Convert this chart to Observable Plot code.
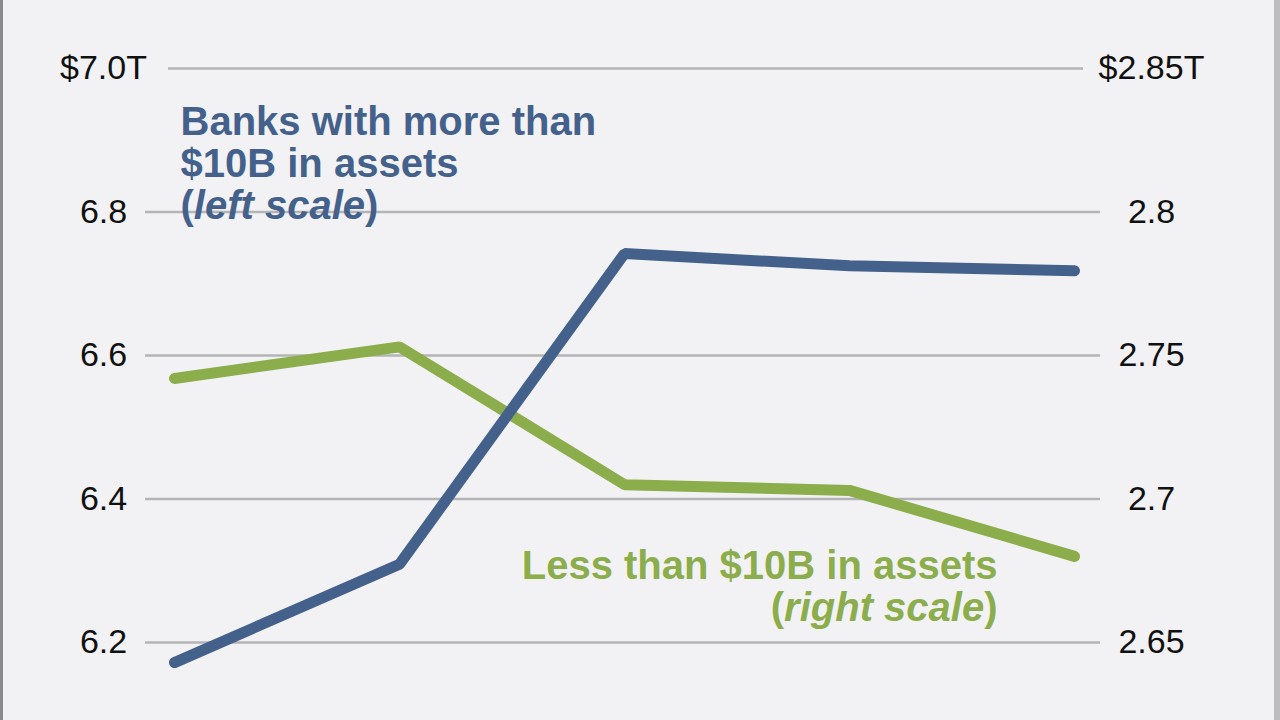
<!DOCTYPE html>
<html>
<head>
<meta charset="utf-8">
<script src="https://cdn.jsdelivr.net/npm/d3@7"></script>
<script src="https://cdn.jsdelivr.net/npm/@observablehq/plot@0.6"></script>
<style>
  html, body { margin: 0; padding: 0; background: #f2f2f4; }
  #wrap { position: relative; width: 1280px; height: 720px; overflow: hidden; background: #f2f2f4; }
  #wrap svg { position: absolute; left: 0; top: 0; }
  #bl { position: absolute; left: 0; top: 0; width: 3px; height: 720px; background: #8a8a8a; }
  #br { position: absolute; right: 0; top: 0; width: 6px; height: 720px; background: #bdbdbd; }
</style>
</head>
<body>
<div id="wrap"><div id="bl"></div><div id="br"></div></div>
<script>
// Periods (unlabelled on the chart)
const periods = ["P1", "P2", "P3", "P4", "P5"];
// Banks with more than $10B in assets, $T (left scale)
const bigBanks = [6.172, 6.309, 6.742, 6.725, 6.718];
// Banks with less than $10B in assets, $T (right scale)
const smallBanks = [2.742, 2.753, 2.705, 2.703, 2.680];
// Tick values and labels
const leftTicks = [6.2, 6.4, 6.6, 6.8, 7.0];
const leftLabels = ["6.2", "6.4", "6.6", "6.8", "$7.0T"];
const rightTicks = [2.65, 2.70, 2.75, 2.80, 2.85];
const rightLabels = ["2.65", "2.7", "2.75", "2.8", "$2.85T"];

// map right-scale values onto the left scale
const leftDomain = [6.2, 7.0];
const rightDomain = [2.65, 2.85];
const toLeft = v => leftDomain[0] + (v - rightDomain[0]) * (leftDomain[1] - leftDomain[0]) / (rightDomain[1] - rightDomain[0]);

const rows = periods.map((p, i) => ({period: p, big: bigBanks[i], small: toLeft(smallBanks[i])}));

const blue = "#44618b";
const green = "#8bad4c";
const grid = "#b4b4b6";

const chart = Plot.plot({
  width: 1280,
  height: 720,
  marginLeft: 172,
  marginRight: 205,
  marginTop: 68,
  marginBottom: 78,
  style: {background: "transparent", fontFamily: "'Liberation Sans', Arial, sans-serif", color: "#111"},
  x: {type: "point", domain: periods, padding: 0, axis: null},
  y: {domain: leftDomain, axis: null},
  marks: [
    Plot.ruleY(leftTicks.filter(d => d < 7), {stroke: grid, strokeWidth: 2.5, insetLeft: -27, insetRight: -25}),
    Plot.ruleY([7.0], {stroke: grid, strokeWidth: 2.5, insetLeft: -4, insetRight: -8}),
    Plot.axisY(leftTicks, {anchor: "left", tickSize: 0, tickPadding: 69, textAnchor: "middle", fontSize: 34, label: null,
      tickFormat: d => leftLabels[leftTicks.indexOf(d)]}),
    Plot.axisY(rightTicks.map(toLeft), {anchor: "right", tickSize: 0, tickPadding: 76, textAnchor: "middle", fontSize: 34, label: null,
      tickFormat: d => rightLabels[rightTicks.map(toLeft).findIndex(t => Math.abs(t - d) < 1e-9)]}),
    Plot.line(rows, {x: "period", y: "small", stroke: green, strokeWidth: 11, strokeLinecap: "round", strokeLinejoin: "miter"}),
    Plot.line(rows, {x: "period", y: "big", stroke: blue, strokeWidth: 11, strokeLinecap: "round", strokeLinejoin: "miter"}),
    Plot.text(["Banks with more than\n$10B in assets\n(left scale)"], {
      frameAnchor: "top-left", dx: 8, dy: 36, text: d => d, textAnchor: "start", lineAnchor: "top",
      lineHeight: 1.06, fontSize: 40, fontWeight: "bold", fill: blue
    }),
    Plot.text(["Less than $10B in assets\n(right scale)"], {
      frameAnchor: "top-left", dx: 825, dy: 480, text: d => d, textAnchor: "end", lineAnchor: "top",
      lineHeight: 1.06, fontSize: 40, fontWeight: "bold", fill: green
    })
  ]
});

// italicize the scale words inside the parentheses
chart.querySelectorAll("tspan, text").forEach(el => {
  if (el.children.length) return;
  const t = el.textContent;
  const m = t.match(/^\((left scale|right scale)\)$/);
  if (m) {
    el.textContent = "(";
    const it = document.createElementNS("http://www.w3.org/2000/svg", "tspan");
    it.setAttribute("font-style", "italic");
    it.textContent = m[1];
    el.appendChild(it);
    el.appendChild(document.createTextNode(")"));
  }
});

document.getElementById("wrap").appendChild(chart);
</script>
</body>
</html>
